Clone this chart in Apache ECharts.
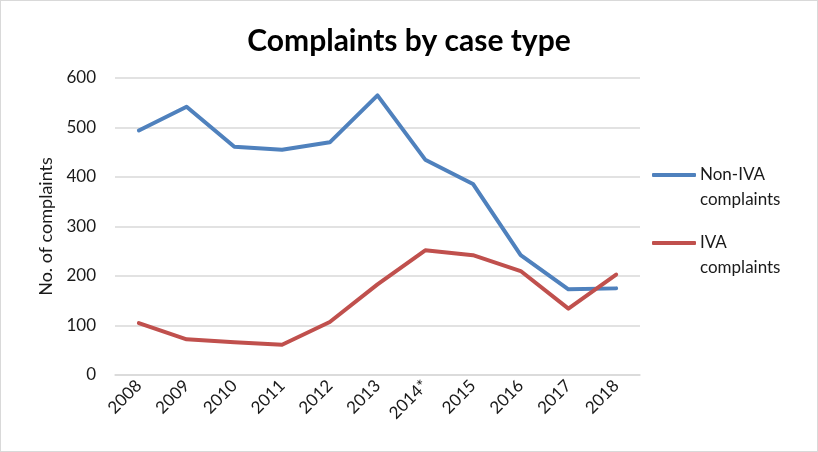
<!DOCTYPE html>
<html><head><meta charset="utf-8">
<script src="https://cdn.jsdelivr.net/npm/echarts@6/dist/echarts.min.js"></script>
<style>
html,body{margin:0;padding:0;background:#fff;}
#c{position:absolute;left:0;top:0;width:816px;height:450px;border:1px solid #d9d9d9;}
</style></head>
<body><div id="c"></div>
<script>
const categories = ['2008','2009','2010','2011','2012','2013','2014*','2015','2016','2017','2018'];
const nonIVA = [494, 542, 461, 455, 470, 565, 435, 386, 242, 173, 175];
const IVA = [105, 72, 66, 61, 107, 183, 252, 242, 210, 134, 203];
const seriesNames = ['Non-IVA complaints', 'IVA complaints'];
const legendLabels = {'Non-IVA complaints': ' \nNon-IVA\ncomplaints', 'IVA complaints': ' \nIVA\ncomplaints'};
const yTicks = {min: 0, max: 600, interval: 100};

const font = 'Lato, "Open Sans", sans-serif';
const chart = echarts.init(document.getElementById('c'));
const legendCommon = {
  orient: 'vertical', left: 646, itemWidth: 44, itemHeight: 4, icon: 'roundRect', itemGap: 0,
  formatter: n => legendLabels[n],
  textStyle: {fontFamily: font, fontSize: 17, color: '#1a1a1a', lineHeight: 25, padding: [0,0,0,-1]},
  selectedMode: false
};
chart.setOption({
  animation: false,
  title: {text: 'Complaints by case type', left: 'center', top: 20,
    textStyle: {fontFamily: font, fontSize: 30, fontWeight: 'bold', color: '#000'}},
  legend: [
    Object.assign({}, legendCommon, {top: 131.5, data: [seriesNames[0]]}),
    Object.assign({}, legendCommon, {top: 199.5, data: [seriesNames[1]]})
  ],
  grid: {left: 114, right: 177, top: 77, bottom: 76},
  xAxis: {type: 'category', data: categories, boundaryGap: true,
    axisLine: {show: true, lineStyle: {color: '#d9d9d9', width: 1.5}},
    axisTick: {show: false},
    axisLabel: {rotate: 45, margin: 8, fontFamily: font, fontSize: 17, color: '#1a1a1a', interval: 0}},
  yAxis: {type: 'value', min: yTicks.min, max: yTicks.max, interval: yTicks.interval,
    name: 'No. of complaints', nameLocation: 'middle', nameGap: 60,
    nameTextStyle: {fontFamily: font, fontSize: 18, color: '#1a1a1a'},
    axisLine: {show: false}, axisTick: {show: false},
    axisLabel: {margin: 19, fontFamily: font, fontSize: 17, color: '#1a1a1a'},
    splitLine: {lineStyle: {color: '#d9d9d9', width: 1.5}}},
  series: [
    {name: seriesNames[0], type: 'line', data: nonIVA, symbol: 'none',
      lineStyle: {color: '#4f81bd', width: 4, cap: 'round', join: 'round'}, itemStyle: {color: '#4f81bd'}},
    {name: seriesNames[1], type: 'line', data: IVA, symbol: 'none',
      lineStyle: {color: '#c0504d', width: 4, cap: 'round', join: 'round'}, itemStyle: {color: '#c0504d'}}
  ]
});
</script></body></html>
